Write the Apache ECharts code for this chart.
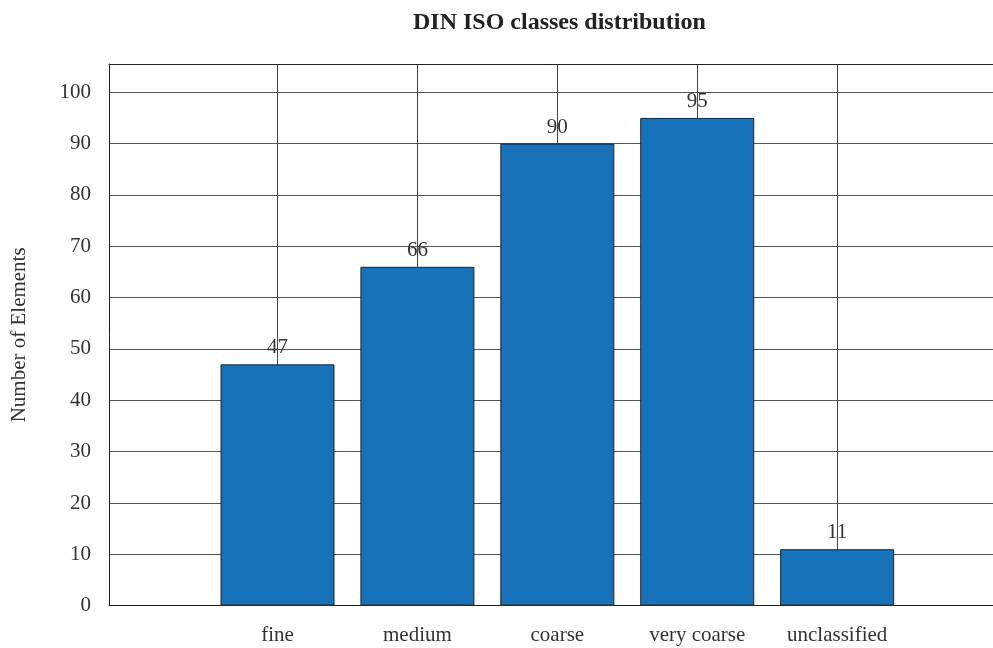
<!DOCTYPE html>
<html>
<head>
<meta charset="utf-8">
<script src="https://cdn.jsdelivr.net/npm/echarts@6/dist/echarts.min.js"></script>
<style>
html,body{margin:0;padding:0;background:#fff;}
#chart{width:993px;height:648px;}
</style>
</head>
<body>
<div id="chart"></div>
<script>
var categories = ['fine', 'medium', 'coarse', 'very coarse', 'unclassified'];
var positions = [1, 2, 3, 4, 5];
var counts = [47, 66, 90, 95, 11];
var yTicks = [0, 10, 20, 30, 40, 50, 60, 70, 80, 90, 100];

var FONT = "'Liberation Serif', 'Times New Roman', serif";
var seriesData = positions.map(function (p, i) { return [p, counts[i]]; });

var chart = echarts.init(document.getElementById('chart'), null, {renderer: 'canvas'});
chart.setOption({
  animation: false,
  backgroundColor: '#ffffff',
  title: {
    text: 'DIN ISO classes distribution',
    left: 413,
    top: 11,
    padding: 0,
    textStyle: {fontFamily: FONT, fontSize: 24, fontWeight: 'bold', color: '#222'}
  },
  grid: {left: 109, right: 0, top: 64, bottom: 42.3, containLabel: false},
  xAxis: [{
    type: 'value',
    min: -0.2044,
    max: 6.114,
    axisLine: {show: true, onZero: false, lineStyle: {color: '#222', width: 1}},
    axisTick: {show: false, customValues: positions},
    axisLabel: {
      customValues: positions,
      margin: 19,
      fontFamily: FONT, fontSize: 21, color: '#333',
      formatter: function (v) {
        var idx = positions.indexOf(Math.round(v));
        return idx >= 0 ? categories[idx] : '';
      }
    },
    splitLine: {show: true, lineStyle: {color: '#444', width: 1}}
  }, {
    type: 'value',
    position: 'top',
    min: -0.2044,
    max: 6.114,
    axisLine: {show: true, onZero: false, lineStyle: {color: '#222', width: 1}},
    axisTick: {show: false},
    axisLabel: {show: false},
    splitLine: {show: false}
  }],
  yAxis: {
    type: 'value',
    min: 0,
    max: 105.5,
    interval: 10,
    name: 'Number of Elements',
    nameLocation: 'middle',
    nameGap: 79,
    nameTextStyle: {fontFamily: FONT, fontSize: 21, color: '#333'},
    axisLine: {show: true, onZero: false, lineStyle: {color: '#222', width: 1}},
    axisTick: {show: false},
    axisLabel: {
      margin: 18,
      fontFamily: FONT, fontSize: 21, color: '#333',
      showMaxLabel: false,
      formatter: function (v) { return yTicks.indexOf(v) >= 0 ? String(v) : ''; }
    },
    splitLine: {show: true, lineStyle: {color: '#555', width: 1}}
  },
  series: [{
    type: 'bar',
    xAxisIndex: 0,
    data: seriesData,
    barWidth: 114,
    itemStyle: {color: '#1772b9', borderColor: '#222', borderWidth: 1},
    label: {
      show: true,
      position: 'top',
      distance: 6,
      fontFamily: FONT, fontSize: 21, color: '#333',
      formatter: function (p) { return String(p.value[1]); }
    }
  }]
});
</script>
</body>
</html>
